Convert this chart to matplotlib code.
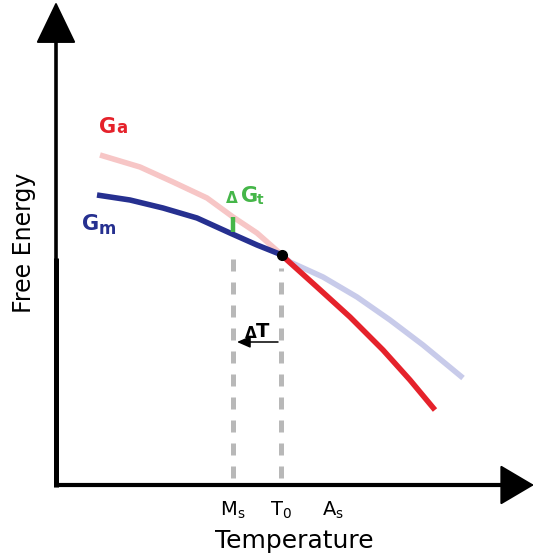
import matplotlib
matplotlib.use('Agg')
import matplotlib.pyplot as plt

# ===== DATA (temperature, free energy in arbitrary units) =====
# austenite: metastable part (faint) and stable part (strong)
ga_t_meta = [100, 140, 173, 207, 233, 257, 282]
ga_e_meta = [405, 393, 378, 362, 343, 327, 305]
ga_t_stab = [282, 287, 317, 350, 383, 410, 435]
ga_e_stab = [305, 300, 273, 243, 210, 180, 150]

# martensite: stable part (strong) and metastable part (faint)
gm_t_stab = [97, 130, 163, 197, 230, 257, 282]
gm_e_stab = [365, 360, 352, 342, 327, 315, 305]
gm_t_meta = [282, 290, 323, 357, 390, 423, 463]
gm_e_meta = [305, 298, 283, 263, 240, 215, 182]

# characteristic temperatures
temp_labels = [r'M$_\mathrm{s}$', r'T$_\mathrm{0}$', r'A$_\mathrm{s}$']
temp_values = [233, 281, 333]
t0_energy = 305

# driving force at Ms, temperature gap Ms..T0
dgt_range = [328, 343]
dT_level = 218

# axis origin / extent
x0, y0 = 56, 75
x_end, y_end = 534, 558

# ===== COLOURS =====
red = '#e5222b'
pink = '#f7c6c6'
navy = '#263090'
lavender = '#c8cbea'
green = '#45b649'
grey = '#b8b8b8'

fig = plt.figure(figsize=(5.36, 5.6), dpi=100)
ax = fig.add_axes([0, 0, 1, 1])
ax.set_xlim(0, 536)
ax.set_ylim(0, 560)
ax.axis('off')

# ===== AXES WITH ARROWS =====
ax.plot([x0, x0], [y0 - 2, 302], color='black', lw=3.6, solid_capstyle='butt')
ax.plot([x0, x0], [300, y_end - 30], color='black', lw=2.6, solid_capstyle='butt')
ax.plot([x0 - 2, x_end - 25], [y0, y0], color='black', lw=3.0, solid_capstyle='butt')
ax.annotate('', xy=(x0, y_end), xytext=(x0, y_end - 40),
            arrowprops=dict(arrowstyle='-|>,head_length=27,head_width=13',
                            mutation_scale=1, color='black', lw=1.5,
                            shrinkA=0, shrinkB=0))
ax.annotate('', xy=(x_end, y0), xytext=(x_end - 40, y0),
            arrowprops=dict(arrowstyle='-|>,head_length=22,head_width=13',
                            mutation_scale=1, color='black', lw=1.5,
                            shrinkA=0, shrinkB=0))

# ===== DASHED GUIDES =====
ax.plot([temp_values[0], temp_values[0]], [y0 + 7, 312], color=grey, lw=3.6,
        ls=(0, (2.4, 2.2)), dash_capstyle='butt')
ax.plot([temp_values[1], temp_values[1]], [y0 + 7, 292], color=grey, lw=3.6,
        ls=(0, (2.4, 2.2)), dash_capstyle='butt')

# ===== CURVES =====
style = dict(lw=4, solid_capstyle='butt', solid_joinstyle='round')
ax.plot(ga_t_meta, ga_e_meta, color=pink, **style)
ax.plot(gm_t_meta, gm_e_meta, color=lavender, **style)
ax.plot(gm_t_stab, gm_e_stab, color=navy, **style)
ax.plot(ga_t_stab, ga_e_stab, color=red, **style)
ax.plot([temp_values[1] + 1], [t0_energy], 'o', color='black', ms=7)

# driving force bar
ax.plot([temp_values[0], temp_values[0]], dgt_range, color=green, lw=3.2, solid_capstyle='butt')

# delta T arrow
ax.annotate('', xy=(temp_values[0] + 4, dT_level), xytext=(temp_values[1] - 3, dT_level),
            arrowprops=dict(arrowstyle='-|>,head_length=8,head_width=3.5',
                            mutation_scale=1, color='black', lw=1.1,
                            shrinkA=0, shrinkB=0))

# ===== LABELS =====
ax.text(99, 427, 'G', color=red, fontsize=15, fontweight='bold', va='baseline')
ax.text(116, 427, 'a', color=red, fontsize=12, fontweight='bold', va='baseline')
ax.text(82, 330, 'G', color=navy, fontsize=15, fontweight='bold', va='baseline')
ax.text(99, 326, 'm', color=navy, fontsize=12, fontweight='bold', va='baseline')
ax.text(226, 357, 'Δ', color=green, fontsize=11, fontweight='bold', va='baseline')
ax.text(241, 358, 'G', color=green, fontsize=15, fontweight='bold', va='baseline')
ax.text(257, 356, 't', color=green, fontsize=10, fontweight='bold', va='baseline')
ax.text(245, 222, 'Δ', color='black', fontsize=11, fontweight='bold', va='baseline')
ax.text(256, 223, 'T', color='black', fontsize=14, fontweight='bold', va='baseline')

for lab, t in zip(temp_labels, temp_values):
    ax.text(t, 44, lab, fontsize=14, ha='center', va='baseline')

ax.text(294, 12, 'Temperature', fontsize=18, ha='center', va='baseline')
ax.text(24, 317, 'Free Energy', fontsize=17, rotation=90, ha='center', va='center')

fig.savefig('out.png', dpi=100)
